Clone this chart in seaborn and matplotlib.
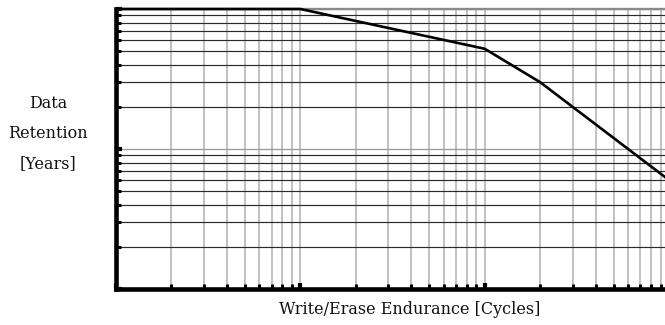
import matplotlib
matplotlib.use("Agg")
import matplotlib.pyplot as plt
import matplotlib.ticker as mticker
import seaborn as sns
import pandas as pd

# Data
cycles = [1e3, 1e4, 1e5, 2e5, 1e6]
years = [100, 100, 52, 30, 6]
x_label = "Write/Erase Endurance [Cycles]"
y_label = "Data\nRetention\n[Years]"

df = pd.DataFrame({"cycles": cycles, "years": years})

sns.set_theme(style="white")
plt.rcParams["font.family"] = ["DejaVu Serif"]

fig = plt.figure(figsize=(6.65, 3.25), dpi=100)
ax = fig.add_axes([116 / 665, 1 - 289 / 325, (669 - 116) / 665, (289 - 9) / 325])

ax.set_xscale("log")
ax.set_yscale("log")
ax.set_xlim(1e3, 1e6)
ax.set_ylim(1, 100)

ax.xaxis.set_major_locator(mticker.LogLocator(base=10, numticks=10))
ax.xaxis.set_minor_locator(mticker.LogLocator(base=10, subs=range(2, 10), numticks=20))
ax.yaxis.set_major_locator(mticker.LogLocator(base=10, numticks=10))
ax.yaxis.set_minor_locator(mticker.LogLocator(base=10, subs=range(2, 10), numticks=20))

# grid: light gray verticals, dark horizontals
ax.xaxis.grid(True, which="both", color="#b8b8b8", lw=1.25)
ax.yaxis.grid(True, which="minor", color="#2a2a2a", lw=0.85)
ax.yaxis.grid(True, which="major", color="#999999", lw=0.9)
ax.set_axisbelow(True)

sns.lineplot(data=df, x="cycles", y="years", ax=ax, color="black", lw=1.9,
             clip_on=False, zorder=5)

for side in ("left", "bottom"):
    ax.spines[side].set_color("black")
    ax.spines[side].set_linewidth(3.3)
ax.spines["right"].set_visible(False)
ax.spines["top"].set_color("#8a8a8a")
ax.spines["top"].set_linewidth(1.7)
ax.spines["top"].set_zorder(1)

ax.tick_params(axis="both", which="major", direction="in", length=4.6, width=3.0,
               color="black", labelleft=False, labelbottom=False,
               left=True, bottom=True)
ax.tick_params(axis="both", which="minor", direction="in", length=3.3, width=2.2,
               color="black", labelleft=False, labelbottom=False,
               left=True, bottom=True)

ax.set_xlabel("")
ax.set_ylabel("")

fig.text(410 / 665, 1 - 310 / 325, x_label, ha="center", va="center",
         fontsize=11.5, color="#111111")
fig.text(48 / 665, 1 - 134 / 325, y_label, ha="center", va="center",
         fontsize=11.5, color="#111111", linespacing=2.0)

fig.savefig("out.png", dpi=100)
